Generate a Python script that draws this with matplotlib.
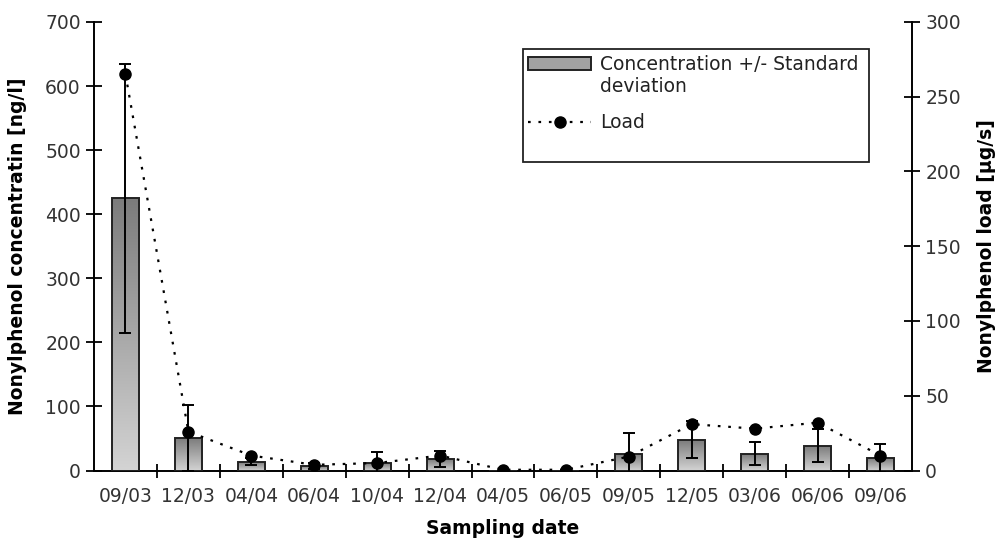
import numpy as np
import matplotlib
matplotlib.use('Agg')
import matplotlib.pyplot as plt
from matplotlib.colors import LinearSegmentedColormap
from matplotlib.lines import Line2D
from matplotlib.patches import Patch, Rectangle

plt.rcParams['font.family'] = ['DejaVu Sans']

# data
dates = ['09/03', '12/03', '04/04', '06/04', '10/04', '12/04', '04/05',
         '06/05', '09/05', '12/05', '03/06', '06/06', '09/06']
conc = [425, 51, 14, 7, 12, 18, 0, 0, 26, 48, 26, 39, 19]
conc_sd = [210, 52, 6, 5, 17, 12, 0, 0, 33, 29, 18, 26, 22]
load = [265, 26, 10, 3.8, 5, 10, 0.5, 0.5, 9.3, 31, 28, 32, 10]

FS = 13.5
fig = plt.figure(figsize=(9.97, 5.44), dpi=100)
ax = fig.add_axes([0.0943, 0.1351, 0.8204, 0.8245])
x = np.arange(len(dates))

# bars with a vertical grey gradient
bars = ax.bar(x, conc, width=0.43, facecolor='none', edgecolor='#222222',
              linewidth=1.4, zorder=3)
grad_cmap = LinearSegmentedColormap.from_list('g', ['#d4d4d4', '#7c7c7c'])
grad = np.linspace(0, 1, 256).reshape(-1, 1)
for b in bars:
    h = b.get_height()
    if h <= 0:
        continue
    x0 = b.get_x()
    im = ax.imshow(grad, extent=[x0, x0 + b.get_width(), 0, h], origin='lower',
                   aspect='auto', cmap=grad_cmap, zorder=2)
    im.set_clip_path(b)

ax.errorbar(x, conc, yerr=conc_sd, fmt='none', ecolor='black', elinewidth=1.4,
            capsize=4.5, capthick=1.4, zorder=4)

ax.set_xlim(-0.5, len(dates) - 0.5)
ax.set_ylim(0, 700)
ax.set_yticks(np.arange(0, 701, 100))
ax.set_xticks(x)
ax.set_xticklabels(dates)
ax.set_xticks(np.arange(0.5, len(dates) - 0.5, 1), minor=True)
ax.tick_params(axis='x', which='major', length=0, pad=12)
ax.tick_params(axis='x', which='minor', direction='inout', length=10, width=1.3)
ax.tick_params(axis='y', direction='inout', length=11, width=1.3, pad=4)
ax.tick_params(labelsize=FS, labelcolor='#333333')
for s in ['top', 'right']:
    ax.spines[s].set_visible(False)
for s in ['left', 'bottom']:
    ax.spines[s].set_linewidth(1.4)

ax.set_ylabel('Nonylphenol concentratin [ng/l]', fontsize=FS,
              fontweight='bold', labelpad=13)
ax.set_xlabel('Sampling date', fontsize=FS, fontweight='bold', labelpad=9)

# load on the second axis
ax2 = ax.twinx()
ax2.set_ylim(0, 300)
ax2.set_yticks(np.arange(0, 301, 50))
ax2.plot(x, load, color='black', linestyle=(0, (1.2, 3.5)), linewidth=1.6,
         marker='o', markersize=8, zorder=5)
ax2.tick_params(axis='y', direction='inout', length=11, width=1.3, pad=4,
                labelsize=FS, labelcolor='#333333')
ax2.spines['top'].set_visible(False)
ax2.spines['left'].set_visible(False)
ax2.spines['bottom'].set_visible(False)
ax2.spines['right'].set_linewidth(1.4)
ax2.set_ylabel('Nonylphenol load [µg/s]', fontsize=FS, fontweight='bold',
               labelpad=12)

# legend: frame taller than its content, second text line added separately
fx0, fy0 = ax.transAxes.inverted().transform(fig.transFigure.transform((522.7 / 997, 1 - 161.7 / 544)))
fx1, fy1 = ax.transAxes.inverted().transform(fig.transFigure.transform((869 / 997, 1 - 49.3 / 544)))
ax2.add_patch(Rectangle((fx0, fy0), fx1 - fx0, fy1 - fy0, transform=ax.transAxes,
                        facecolor='white', edgecolor='#222222', linewidth=1.3,
                        zorder=6))
handles = [Patch(facecolor='#a2a2a2', edgecolor='#222222', linewidth=1.4),
           Line2D([], [], color='black', linestyle=(0, (1.2, 3.5)), linewidth=1.6,
                  marker='o', markersize=8)]
leg = ax2.legend(handles, ['Concentration +/- Standard', 'Load'],
                 loc='upper left', bbox_to_anchor=(fx0, fy1), frameon=False,
                 fontsize=FS, handlelength=3.36, handleheight=0.75,
                 handletextpad=0.45, borderpad=0.3, borderaxespad=0,
                 labelspacing=2.1)
leg.set_zorder(7)
for t in leg.get_texts():
    t.set_color('#222222')
fig.text(600 / 997, 1 - 87 / 544, 'deviation', fontsize=FS, color='#222222',
         va='center', ha='left', zorder=8)

fig.savefig('out.png', dpi=100)
